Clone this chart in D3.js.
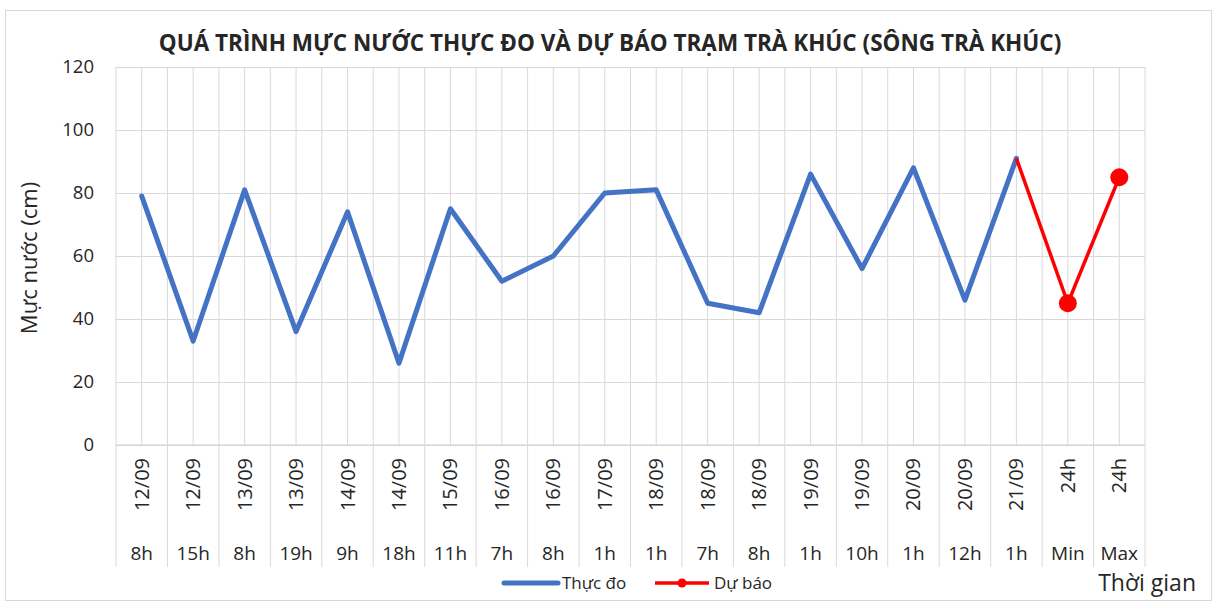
<!DOCTYPE html>
<html>
<head>
<meta charset="utf-8">
<script src="https://cdn.jsdelivr.net/npm/d3@7"></script>
<style>
  body { margin: 0; background: #fff; }
  text { font-family: "Open Sans", "Noto Sans", sans-serif; fill: #262626; }
</style>
</head>
<body>
<script>
// category labels (two levels)
var dates = ['12/09','12/09','13/09','13/09','14/09','14/09','15/09','16/09','16/09','17/09',
             '18/09','18/09','18/09','19/09','19/09','20/09','20/09','21/09','24h','24h'];
var hours = ['8h','15h','8h','19h','9h','18h','11h','7h','8h','1h',
             '1h','7h','8h','1h','10h','1h','12h','1h','Min','Max'];

// water level (cm)
var thucDo = [79,33,81,36,74,26,75,52,60,80,81,45,42,86,56,88,46,91,null,null];
var duBao  = [null,null,null,null,null,null,null,null,null,null,null,null,null,null,null,null,null,91,45,85];

var yTicks = [0,20,40,60,80,100,120];

var W = 1217, H = 603;
var pLeft = 116, pRight = 1145, pTop = 67, pBottom = 445;

var svg = d3.select('body').append('svg')
	.attr('width', W)
	.attr('height', H);

// chart border
svg.append('rect')
	.attr('x', 5.5).attr('y', 10.5)
	.attr('width', 1206).attr('height', 590)
	.attr('fill', '#fff')
	.attr('stroke', '#d9d9d9');

var x = d3.scaleBand()
	.domain(d3.range(dates.length))
	.range([pLeft, pRight])
	.padding(0);

var y = d3.scaleLinear()
	.domain([0, 120])
	.range([pBottom, pTop]);

// horizontal grid
svg.append('g')
	.attr('transform', 'translate(' + pLeft + ',0)')
	.call(d3.axisLeft(y).tickValues(yTicks).tickSize(-(pRight - pLeft)).tickFormat(''))
	.call(function(g){
		g.select('.domain').remove();
		g.selectAll('line').attr('stroke', '#d9d9d9');
	});

// vertical grid: every category boundary and center
var vx = [];
d3.range(dates.length).forEach(function(i){
	vx.push(x(i));
	vx.push(x(i) + x.bandwidth() / 2);
});
vx.push(pRight);

svg.append('g').selectAll('line')
	.data(vx)
	.enter().append('line')
	.attr('x1', function(d){ return d; })
	.attr('x2', function(d){ return d; })
	.attr('y1', pTop)
	.attr('y2', pBottom)
	.attr('stroke', '#d9d9d9');

// category table below the plot
svg.append('line')
	.attr('x1', pLeft).attr('x2', pRight)
	.attr('y1', pBottom).attr('y2', pBottom)
	.attr('stroke', '#d0d0d0');

svg.append('g').selectAll('line')
	.data(d3.range(dates.length + 1))
	.enter().append('line')
	.attr('x1', function(i){ return i < dates.length ? x(i) : pRight; })
	.attr('x2', function(i){ return i < dates.length ? x(i) : pRight; })
	.attr('y1', pBottom)
	.attr('y2', 567)
	.attr('stroke', '#d9d9d9');

// y axis labels
svg.append('g')
	.attr('transform', 'translate(' + pLeft + ',0)')
	.call(d3.axisLeft(y).tickValues(yTicks).tickSize(0).tickPadding(22))
	.call(function(g){
		g.select('.domain').remove();
		g.selectAll('text')
			.style('font-size', '18.5px')
			.style('font-family', '"Open Sans", sans-serif')
			.attr('fill', '#262626');
	});

// date labels (rotated)
svg.append('g').selectAll('text')
	.data(dates)
	.enter().append('text')
	.attr('transform', function(d, i){
		return 'translate(' + (x(i) + x.bandwidth() / 2 + 7) + ',458) rotate(-90)';
	})
	.attr('text-anchor', 'end')
	.style('font-size', '20px')
	.text(function(d){ return d; });

// hour labels
svg.append('g').selectAll('text')
	.data(hours)
	.enter().append('text')
	.attr('x', function(d, i){ return x(i) + x.bandwidth() / 2; })
	.attr('y', 560)
	.attr('text-anchor', 'middle')
	.style('font-size', '19px')
	.text(function(d){ return d; });

var line = d3.line()
	.defined(function(d){ return d != null; })
	.x(function(d, i){ return x(i) + x.bandwidth() / 2; })
	.y(function(d){ return y(d); });

svg.append('path')
	.datum(thucDo)
	.attr('d', line)
	.attr('fill', 'none')
	.attr('stroke', '#4472c4')
	.attr('stroke-width', 5)
	.attr('stroke-linejoin', 'round')
	.attr('stroke-linecap', 'round');

svg.append('path')
	.datum(duBao)
	.attr('d', line)
	.attr('fill', 'none')
	.attr('stroke', '#ff0000')
	.attr('stroke-width', 3.5)
	.attr('stroke-linejoin', 'round');

// forecast markers (not on the joining point)
var firstF = duBao.findIndex(function(d){ return d != null; });
svg.append('g').selectAll('circle')
	.data(duBao.map(function(d, i){ return {v: d, i: i}; })
		.filter(function(d){ return d.v != null && d.i > firstF; }))
	.enter().append('circle')
	.attr('cx', function(d){ return x(d.i) + x.bandwidth() / 2; })
	.attr('cy', function(d){ return y(d.v); })
	.attr('r', 9)
	.attr('fill', '#ff0000');

// title
svg.append('text')
	.attr('x', 610)
	.attr('y', 51)
	.attr('text-anchor', 'middle')
	.style('font-size', '22.5px')
	.style('font-weight', 'bold')
	.attr('fill', '#000')
	.text('QUÁ TRÌNH MỰC NƯỚC THỰC ĐO VÀ DỰ BÁO TRẠM TRÀ KHÚC (SÔNG TRÀ KHÚC)');

// y axis title
svg.append('text')
	.attr('transform', 'translate(37,258) rotate(-90)')
	.attr('text-anchor', 'middle')
	.style('font-size', '22px')
	.attr('fill', '#000')
	.text('Mực nước (cm)');

// x axis title
svg.append('text')
	.attr('x', 1196)
	.attr('y', 591)
	.attr('text-anchor', 'end')
	.style('font-size', '23px')
	.attr('fill', '#000')
	.text('Thời gian');

// legend
var lg = svg.append('g');
lg.append('line')
	.attr('x1', 504).attr('x2', 558)
	.attr('y1', 583).attr('y2', 583)
	.attr('stroke', '#4472c4').attr('stroke-width', 5)
	.attr('stroke-linecap', 'round');
lg.append('text')
	.attr('x', 562).attr('y', 589)
	.style('font-size', '17px')
	.text('Thực đo');
lg.append('line')
	.attr('x1', 655).attr('x2', 709)
	.attr('y1', 583).attr('y2', 583)
	.attr('stroke', '#ff0000').attr('stroke-width', 3.5);
lg.append('circle')
	.attr('cx', 682).attr('cy', 583).attr('r', 4.5)
	.attr('fill', '#ff0000');
lg.append('text')
	.attr('x', 714).attr('y', 589)
	.style('font-size', '17px')
	.text('Dự báo');
</script>
</body>
</html>
